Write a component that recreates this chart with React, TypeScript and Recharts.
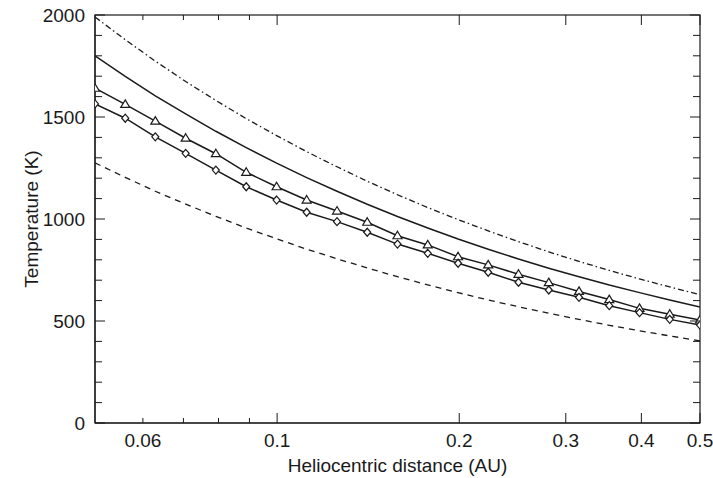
import { LineChart, Line, XAxis, YAxis, Label } from "recharts";

const FONT = "'Liberation Sans', Arial, Helvetica, sans-serif";
const INK = "#1a1a1a";

// heliocentric distance samples (AU)
const distance = [
  0.05, 0.0561, 0.0629, 0.0706, 0.0792, 0.0889, 0.0998, 0.1119, 0.1256, 0.1409, 0.1581,
  0.1774, 0.1991, 0.2233, 0.2506, 0.2812, 0.3155, 0.354, 0.3972, 0.4456, 0.5,
];

// temperatures (K)
const upperBound = [
  1990, 1879, 1774, 1674, 1581, 1492, 1409, 1330, 1256, 1185, 1119,
  1056, 997, 942, 889, 839, 792, 748, 706, 667, 629,
];
const blackbody = [
  1800, 1699, 1604, 1515, 1430, 1350, 1274, 1203, 1136, 1072, 1012,
  956, 902, 852, 804, 759, 717, 676, 639, 603, 569,
];
const modelA = [
  1641, 1562, 1480, 1396, 1320, 1229, 1158, 1093, 1039, 984, 918,
  873, 815, 775, 729, 688, 645, 605, 562, 533, 505,
];
const modelB = [
  1564, 1494, 1403, 1322, 1240, 1158, 1093, 1033, 987, 935, 877,
  832, 783, 739, 690, 652, 616, 575, 541, 508, 480,
];
const lowerBound = [
  1275, 1204, 1136, 1073, 1013, 956, 903, 852, 805, 760, 717,
  677, 639, 603, 570, 538, 508, 479, 452, 427, 403,
];

const xTicks = [0.06, 0.07, 0.08, 0.09, 0.1, 0.2, 0.3, 0.4, 0.5];
const xLabels = [0.06, 0.1, 0.2, 0.3, 0.4, 0.5];
const yTicks = [
  0, 100, 200, 300, 400, 500, 600, 700, 800, 900, 1000,
  1100, 1200, 1300, 1400, 1500, 1600, 1700, 1800, 1900, 2000,
];
const X_MIN = 0.05;
const X_MAX = 0.5;
const Y_MAX = 2000;

const data = distance.map((r, i) => ({
  r,
  upperBound: upperBound[i],
  blackbody: blackbody[i],
  modelA: modelA[i],
  modelB: modelB[i],
  lowerBound: lowerBound[i],
}));

// layout
const W = 713;
const H = 478;
const MARGIN = { top: 15, right: 13, bottom: 0, left: 0 };
const Y_AXIS_W = 95;
const X_AXIS_H = 55;
const PLOT_W = W - MARGIN.left - MARGIN.right - Y_AXIS_W;
const PLOT_H = H - MARGIN.top - MARGIN.bottom - X_AXIS_H;

const MAJOR = 10;
const MINOR_X = 5;
const MINOR_Y = 7;

const isMajorY = (v: number) => v % 500 === 0;
const isMajorX = (v: number) => xLabels.includes(v) && v !== 0.06;

// bottom ticks point inward; each one is mirrored on the top edge of the box
function BottomTick({ x, y, payload }: any) {
  const v = payload.value;
  const len = isMajorX(v) ? MAJOR : MINOR_X;
  const top = y - PLOT_H;
  return (
    <g>
      <path d={`M${x},${y}V${y - len}M${x},${top}V${top + len}`} stroke={INK} strokeWidth={1} fill="none" />
      {xLabels.includes(v) && (
        <text x={x} y={y + 24} textAnchor="middle" fontFamily={FONT} fontSize={19} fill={INK}>
          {String(v)}
        </text>
      )}
    </g>
  );
}

// left ticks, mirrored on the right edge
function LeftTick({ x, y, payload }: any) {
  const v = payload.value;
  const len = isMajorY(v) ? MAJOR : MINOR_Y;
  const right = x + PLOT_W;
  return (
    <g>
      <path d={`M${x},${y}H${x + len}M${right},${y}H${right - len}`} stroke={INK} strokeWidth={1} fill="none" />
      {isMajorY(v) && (
        <text x={x - 10} y={y + 7} textAnchor="end" fontFamily={FONT} fontSize={19} fill={INK}>
          {v}
        </text>
      )}
    </g>
  );
}

function TriangleDot({ cx, cy }: any) {
  if (cx == null || cy == null) return null;
  return (
    <path
      d={`M${cx},${cy - 4.5} L${cx + 4.5},${cy + 3} L${cx - 4.5},${cy + 3} Z`}
      fill="#fff"
      stroke={INK}
      strokeWidth={1.2}
    />
  );
}

function DiamondDot({ cx, cy }: any) {
  if (cx == null || cy == null) return null;
  return (
    <path
      d={`M${cx},${cy - 4} L${cx + 3.5},${cy} L${cx},${cy + 4} L${cx - 3.5},${cy} Z`}
      fill="#fff"
      stroke={INK}
      strokeWidth={1.2}
    />
  );
}

export default function App() {
  return (
    <div style={{ position: "absolute", left: 0, top: 0, background: "#fff" }}>
      <LineChart width={W} height={H} data={data} margin={MARGIN}>
        <XAxis
          dataKey="r"
          type="number"
          scale="log"
          domain={[X_MIN, X_MAX]}
          allowDataOverflow
          ticks={xTicks}
          interval={0}
          height={X_AXIS_H}
          tickSize={0}
          tickMargin={0}
          tick={<BottomTick />}
          axisLine={{ stroke: INK, strokeWidth: 1.2 }}
          tickLine={false}
        >
          <Label
            content={({ viewBox }: any) => (
              <text
                x={viewBox.x + viewBox.width / 2}
                y={viewBox.y + 49}
                textAnchor="middle"
                fontFamily={FONT}
                fontSize={19}
                fill={INK}
              >
                Heliocentric distance (AU)
              </text>
            )}
          />
        </XAxis>
        <YAxis
          type="number"
          domain={[0, Y_MAX]}
          ticks={yTicks}
          interval={0}
          width={Y_AXIS_W}
          tickSize={0}
          tickMargin={0}
          tick={<LeftTick />}
          axisLine={{ stroke: INK, strokeWidth: 1.2 }}
          tickLine={false}
        >
          <Label
            content={({ viewBox }: any) => {
              const cy = viewBox.y + viewBox.height / 2;
              const left = viewBox.x + viewBox.width;
              return (
                <g>
                  {/* box around the plot area */}
                  <rect
                    x={left}
                    y={viewBox.y}
                    width={PLOT_W}
                    height={viewBox.height}
                    fill="none"
                    stroke={INK}
                    strokeWidth={1.2}
                  />
                  <text
                    x={31}
                    y={cy}
                    transform={`rotate(-90 31 ${cy})`}
                    textAnchor="middle"
                    dominantBaseline="central"
                    fontFamily={FONT}
                    fontSize={19}
                    fill={INK}
                  >
                    Temperature (K)
                  </text>
                </g>
              );
            }}
          />
        </YAxis>

        <Line
          dataKey="upperBound"
          type="linear"
          stroke={INK}
          strokeWidth={1.3}
          strokeDasharray="6 3 1.5 3"
          dot={false}
          activeDot={false}
          isAnimationActive={false}
        />
        <Line
          dataKey="blackbody"
          type="linear"
          stroke={INK}
          strokeWidth={1.5}
          dot={false}
          activeDot={false}
          isAnimationActive={false}
        />
        <Line
          dataKey="modelA"
          type="linear"
          stroke={INK}
          strokeWidth={1.5}
          dot={<TriangleDot />}
          activeDot={false}
          isAnimationActive={false}
        />
        <Line
          dataKey="modelB"
          type="linear"
          stroke={INK}
          strokeWidth={1.5}
          dot={<DiamondDot />}
          activeDot={false}
          isAnimationActive={false}
        />
        <Line
          dataKey="lowerBound"
          type="linear"
          stroke={INK}
          strokeWidth={1.3}
          strokeDasharray="6 5"
          dot={false}
          activeDot={false}
          isAnimationActive={false}
        />
      </LineChart>
    </div>
  );
}
